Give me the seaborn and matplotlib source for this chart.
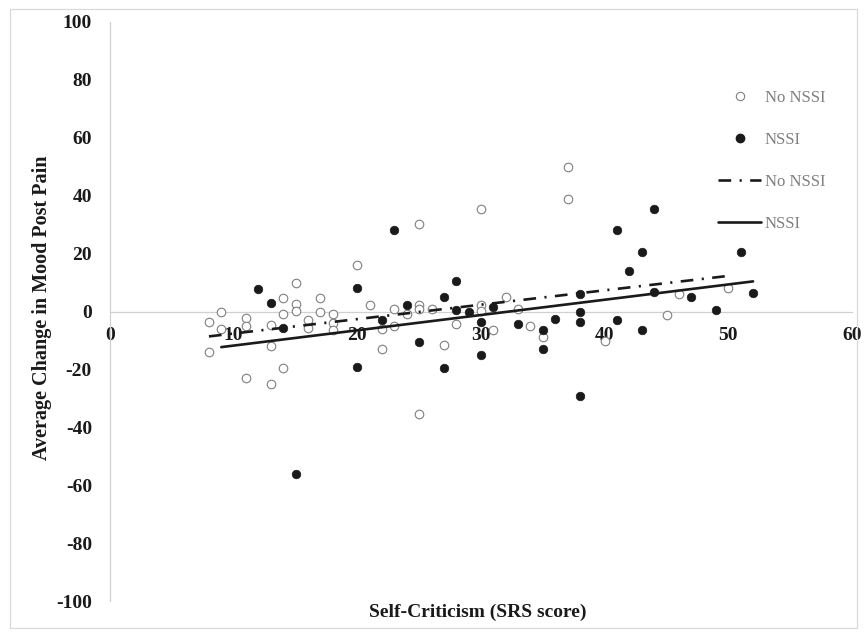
import numpy as np
import pandas as pd
import matplotlib
matplotlib.use("Agg")
import matplotlib.pyplot as plt
from matplotlib.lines import Line2D
from matplotlib.patches import Rectangle
import seaborn as sns

# ---- data ----
no_nssi_x = [8, 9, 9, 8, 11, 11, 11, 13, 13, 13, 14, 14, 14, 15, 15, 15, 16, 16, 17, 17,
             18, 18, 18, 20, 21, 22, 22, 23, 23, 24, 25, 25, 26, 27, 28, 30, 30, 31, 32, 33,
             34, 35, 40, 45, 46, 50, 25, 30, 37, 37, 25]
no_nssi_y = [-3.7, -0.2, -5.9, -13.9, -2.2, -4.9, -23.0, -4.6, -12.0, -25.2, 4.8, -0.9, -19.4,
             10.0, 2.7, 0.1, -2.8, -5.7, 4.6, -0.2, -0.7, -3.9, -6.3, 16.2, 2.1, -6.0, -13.0,
             0.7, -4.9, -0.7, 2.4, 0.7, 0.9, -11.6, -4.4, 2.3, 0.1, -6.3, 5.1, 1.0, -4.9, -8.8,
             -10.3, -1.1, 5.9, 8.2, 30.1, 35.4, 49.9, 38.8, -35.4]

nssi_x = [12, 13, 14, 20, 20, 22, 24, 23, 15, 25, 27, 27, 28, 28, 29, 30, 30, 31, 33, 35,
          35, 36, 38, 38, 38, 38, 41, 41, 42, 43, 43, 44, 44, 47, 49, 51, 52]
nssi_y = [7.6, 3.0, -5.7, 8.2, -19.0, -2.8, 2.3, 28.1, -56.1, -10.5, 4.9, -19.4, 10.4, 0.35,
          -0.2, -3.7, -15.0, 1.6, -4.2, -6.3, -13.0, -2.5, 6.0, -0.1, -3.6, -29.2, -2.8, 28.2,
          13.9, 20.7, -6.3, 6.8, 35.4, 4.9, 0.35, 20.6, 6.25]

# linear trend lines (end points)
trend_no_x = [8, 50]
trend_no_y = [-8.6, 12.3]
trend_nssi_x = [9, 52]
trend_nssi_y = [-12.3, 10.4]

x_ticks = [0, 10, 20, 30, 40, 50, 60]
y_ticks = [-100, -80, -60, -40, -20, 0, 20, 40, 60, 80, 100]
x_title = "Self-Criticism (SRS score)"
y_title = "Average Change in Mood Post Pain"
legend_labels = ["No NSSI", "NSSI", "No NSSI", "NSSI"]

# ---- style ----
sns.set_style("white")
plt.rcParams["font.family"] = ["Liberation Serif", "DejaVu Serif"]
plt.rcParams["axes.unicode_minus"] = False

W, H = 867, 637
fig = plt.figure(figsize=(W / 100, H / 100), dpi=100)
ax = fig.add_axes([110 / W, 1 - 601 / H, (852 - 110) / W, (601 - 22) / H])

df_no = pd.DataFrame({"x": no_nssi_x, "y": no_nssi_y})
df_ns = pd.DataFrame({"x": nssi_x, "y": nssi_y})

sns.scatterplot(data=df_no, x="x", y="y", ax=ax, s=38, marker="o",
                facecolor="white", edgecolor="#7f7f7f", linewidth=0.8, zorder=3)
sns.scatterplot(data=df_ns, x="x", y="y", ax=ax, s=38, marker="o",
                color="#1a1a1a", edgecolor="#1a1a1a", linewidth=0.5, zorder=3)

dd = (4.8, 3.2, 0.8, 3.2)
l1, = ax.plot(trend_no_x, trend_no_y, color="#1a1a1a", lw=1.9, zorder=4)
l1.set_dashes(dd)
ax.plot(trend_nssi_x, trend_nssi_y, color="#1a1a1a", lw=1.9, zorder=4)

ax.set_xlim(0, 60)
ax.set_ylim(-100, 100)
ax.set_xticks(x_ticks)
ax.set_yticks(y_ticks)
ax.set_xlabel("")
ax.set_ylabel("")

for s in ["top", "right"]:
    ax.spines[s].set_visible(False)
ax.spines["bottom"].set_position(("data", 0))
for s in ["left", "bottom"]:
    ax.spines[s].set_color("#d0d0d0")
    ax.spines[s].set_linewidth(0.9)

ax.tick_params(axis="both", direction="out", length=4, width=0.9, color="#d0d0d0",
               labelsize=14, pad=9, labelcolor="#1a1a1a")
ax.tick_params(axis="x", pad=7)
for lab in ax.get_xticklabels() + ax.get_yticklabels():
    lab.set_fontweight("bold")

fig.text(478 / W, 1 - 612 / H, x_title, ha="center", va="center",
         fontsize=14, fontweight="bold", color="#1a1a1a")
fig.text(42 / W, 1 - 308 / H, y_title, ha="center", va="center", rotation=90,
         fontsize=14.5, fontweight="bold", color="#1a1a1a")

handles = [
    Line2D([], [], ls="none", marker="o", markersize=6, markerfacecolor="white",
           markeredgecolor="#7f7f7f", markeredgewidth=0.8),
    Line2D([], [], ls="none", marker="o", markersize=6, markerfacecolor="#1a1a1a",
           markeredgecolor="#1a1a1a"),
    Line2D([], [], color="#1a1a1a", lw=1.9, dashes=dd),
    Line2D([], [], color="#1a1a1a", lw=1.9),
]
leg = fig.legend(handles, legend_labels, loc="upper left",
                 bbox_to_anchor=(718 / W, 1 - 90 / H), bbox_transform=fig.transFigure,
                 frameon=False, fontsize=12, handlelength=2.6, handletextpad=0.2,
                 labelspacing=1.55, borderpad=0, borderaxespad=0)
for t in leg.get_texts():
    t.set_color("#7f7f7f")

fig.patches.append(Rectangle((10 / W, 1 - 628 / H), 847 / W, 619 / H,
                             transform=fig.transFigure, fill=False,
                             edgecolor="#d9d9d9", linewidth=0.9))

fig.savefig("out.png", dpi=100)
